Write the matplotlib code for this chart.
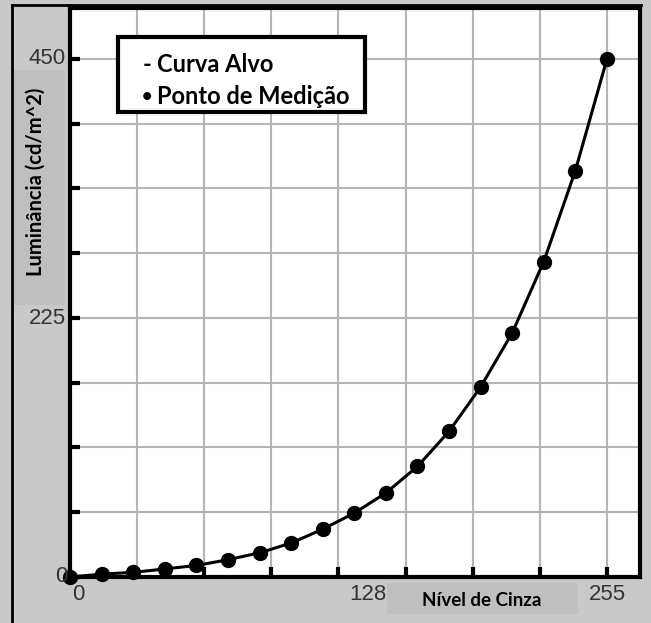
import matplotlib.pyplot as plt
import matplotlib.patches as patches
from matplotlib.lines import Line2D
import numpy as np

# Data
gray_level = [0, 15, 30, 45, 60, 75, 90, 105, 120, 135, 150, 165, 180, 195, 210, 225, 240, 255]
luminance = [0, 2.5, 4, 7, 10, 15, 21, 29.5, 41.5, 55.5, 73, 96, 126.5, 165, 212, 274, 353, 450]

x_tick_labels = ['0', '128', '255']
y_tick_labels = ['0', '225', '450']

W, H = 651, 623
BG = '#c9c9c9'
BOX = '#bfbfbf'


def fx(px):
    return px / W


def fy(py):
    return 1 - py / H


fig = plt.figure(figsize=(W / 100, H / 100), dpi=100, facecolor=BG)
ax = fig.add_axes([fx(70), fy(577), fx(640) - fx(70), fy(8) - fy(577)])
ax.set_facecolor('white')

ax.plot(gray_level, luminance, color='black', linewidth=2.2, zorder=3)
ax.plot(gray_level, luminance, 'o', color='black', markersize=10, zorder=4, clip_on=False)

ax.set_xlim(0, 270.7)
ax.set_ylim(0, 494.3)

ax.set_xticks(np.linspace(0, 255, 9))
ax.set_yticks(np.linspace(0, 450, 9))
ax.set_xticklabels([])
ax.set_yticklabels([])
ax.tick_params(direction='in', length=7, width=3, color='black')
ax.grid(True, color='#b4b4b4', linewidth=1.5)
ax.set_axisbelow(True)
for s in ax.spines.values():
    s.set_linewidth(3)
    s.set_color('black')

# tick labels
tick_font = dict(fontsize=16, color='#333333', family='Liberation Sans')
fig.text(fx(66), fy(59), y_tick_labels[2], ha='right', va='center', **tick_font)
fig.text(fx(66), fy(318), y_tick_labels[1], ha='right', va='center', **tick_font)
fig.text(fx(67), fy(576), y_tick_labels[0], ha='right', va='center', **tick_font)
fig.text(fx(78), fy(595), x_tick_labels[0], ha='center', va='center', **tick_font)
fig.text(fx(368), fy(595), x_tick_labels[1], ha='center', va='center', **tick_font)
fig.text(fx(607), fy(595), x_tick_labels[2], ha='center', va='center', **tick_font)

# axis label boxes
fig.patches.append(patches.Rectangle((fx(13), fy(305)), fx(65) - fx(13), fy(70) - fy(305),
                                     transform=fig.transFigure, facecolor=BOX, edgecolor='none', zorder=0))
fig.patches.append(patches.Rectangle((fx(387), fy(614)), fx(578) - fx(387), fy(583) - fy(614),
                                     transform=fig.transFigure, facecolor=BOX, edgecolor='none', zorder=0))
fig.text(fx(36), fy(182), 'Luminância (cd/m^2)', rotation=90, ha='center', va='center',
         fontsize=14.5, fontweight='bold', family='Lato')
fig.text(fx(482), fy(600), 'Nível de Cinza', ha='center', va='center',
         fontsize=13.5, fontweight='bold', family='Lato')

# outer frame
fig.lines.append(Line2D([fx(12), fx(12)], [0, fy(5)], transform=fig.transFigure, color='black', linewidth=2))
fig.lines.append(Line2D([fx(12), fx(641)], [fy(5), fy(5)], transform=fig.transFigure, color='black', linewidth=2))

# legend box
fig.patches.append(patches.Rectangle((fx(118), fy(112)), fx(365) - fx(118), fy(37) - fy(112),
                                     transform=fig.transFigure, facecolor='white', edgecolor='black',
                                     linewidth=3, zorder=5))
fig.text(fx(143), fy(64), '-', ha='left', va='center', fontsize=17,
         fontweight='bold', family='Lato', zorder=6)
fig.text(fx(157), fy(64), 'Curva Alvo', ha='left', va='center', fontsize=17,
         fontweight='bold', family='Lato', zorder=6)
fig.text(fx(142), fy(96), '•', ha='left', va='center', fontsize=13,
         fontweight='bold', family='Lato', zorder=6)
fig.text(fx(157), fy(96), 'Ponto de Medição', ha='left', va='center', fontsize=17,
         fontweight='bold', family='Lato', zorder=6)

fig.savefig('out.png', dpi=100, facecolor=BG)
